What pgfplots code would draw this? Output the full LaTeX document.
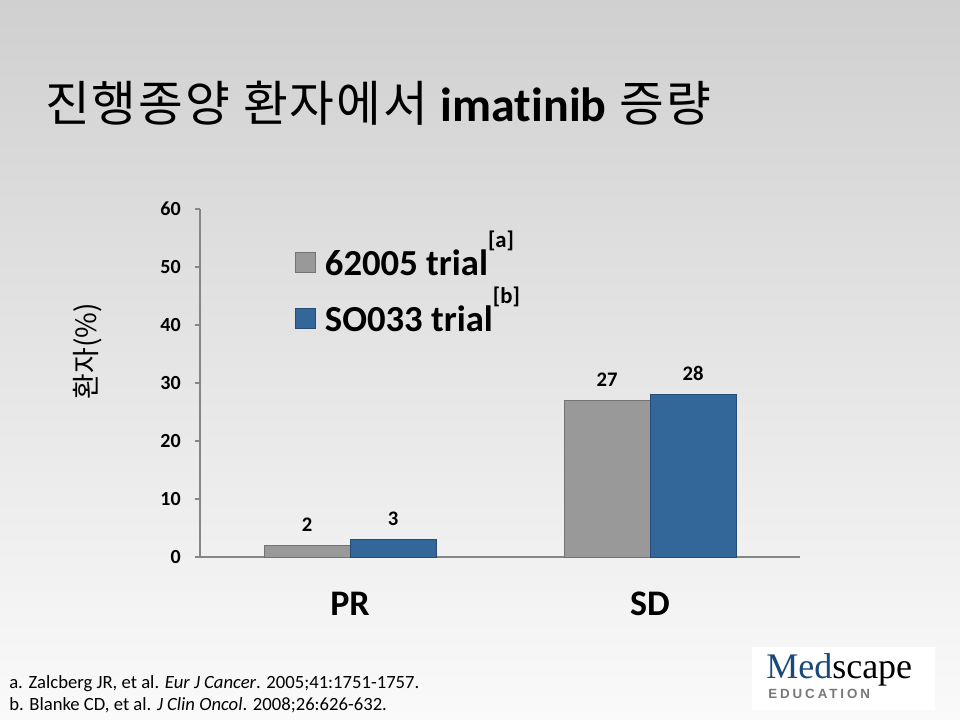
\documentclass[border=0pt]{standalone}
\usepackage{pgfplots}
\pgfplotsset{compat=1.18}
\usepackage{fontspec}
\setmainfont{Carlito}[Ligatures=NoCommon]
\newfontfamily\kr{Noto Sans CJK KR}
\newfontfamily\krt[LetterSpace=4]{Noto Sans CJK KR}
\newfontfamily\serifb{Liberation Serif}
\newfontfamily\edu[LetterSpace=22]{Liberation Sans}
\definecolor{bggray}{RGB}{208,208,208}
\definecolor{bgwhite}{RGB}{250,250,250}
\definecolor{bargray}{RGB}{153,153,153}
\definecolor{bargrayedge}{RGB}{115,115,115}
\definecolor{barblue}{RGB}{51,102,153}
\definecolor{barblueedge}{RGB}{38,76,118}
\definecolor{axisgray}{RGB}{134,134,134}
\definecolor{medblue}{RGB}{26,74,122}
\definecolor{edugray}{RGB}{120,120,120}
\begin{document}
\begin{tikzpicture}[x=0.75pt,y=-0.75pt]
\shade[top color=bggray, bottom color=bgwhite] (0,0) rectangle (960,720);
\node[anchor=base west, inner sep=0pt] at (45,122) {\fontsize{36.5}{40}\selectfont\krt 진행종양 환자에서 {\rmfamily\bfseries\fontsize{36}{40}\selectfont imatinib} 증량};
\begin{axis}[
  at={(150pt,-417.75pt)}, anchor=south west,
  scale only axis, width=450pt, height=261pt,
  xmin=-0.5, xmax=1.5, ymin=0, ymax=60,
  /pgf/number format/assume math mode=true,
  axis lines*=left,
  axis line style={axisgray, line width=0.8pt},
  tick style={axisgray, line width=0.8pt},
  tick align=outside,
  major tick length=3.75pt, minor tick length=6.75pt,
  ybar=0pt, bar width=64.5pt,
  ytick={0,10,...,60},
  xtick=\empty,
  minor xtick={-0.5,0.5,1.5},
  extra x ticks={0,1},
  extra x tick labels={PR,SD},
  extra x tick style={major tick length=0pt, tick style={draw=none}},
  xticklabel style={font=\bfseries\fontsize{27}{27}\selectfont, anchor=north, inner sep=0pt, yshift=-26pt},
  yticklabel style={font=\bfseries\fontsize{15}{15}\selectfont, inner sep=0pt, xshift=-10.5pt},
  ylabel={\kr 환자(\%)},
  ylabel style={at={(rel axis cs:-0.1867,0.592)}, anchor=center, font=\fontsize{21}{21}\selectfont},
  nodes near coords,
  nodes near coords style={font=\bfseries\fontsize{15.5}{15}\selectfont, anchor=south, inner sep=0pt, yshift=10pt, text=black},
  every axis plot post/.append style={legend image code/.code={\draw[##1] (0pt,-6pt) rectangle (15pt,9pt);}},
  legend style={at={(rel axis cs:0.158,0.89)}, anchor=north west, draw=none, fill=none,
    font=\bfseries\fontsize{27.5}{27}\selectfont, row sep=17pt, column sep=5pt, inner sep=0pt,
    nodes={inner sep=2pt}},
  legend cell align=left,
]
\addplot[fill=bargray, draw=bargrayedge] coordinates {(0,2) (1,27)};
\addlegendentry{62005 trial\smash{\raisebox{21pt}{\fontsize{17}{17}\selectfont[a]}}}
\addplot[fill=barblue, draw=barblueedge] coordinates {(0,3) (1,28)};
\addlegendentry{SO033 trial\smash{\raisebox{21pt}{\fontsize{17}{17}\selectfont[b]}}}
\end{axis}
\node[anchor=base west, inner sep=0pt, font=\fontsize{14}{16}\selectfont] at (9,688) {a. Zalcberg JR, et al. \textit{Eur J Cancer}. 2005;41:1751-1757.};
\node[anchor=base west, inner sep=0pt, font=\fontsize{14}{16}\selectfont] at (9,710) {b. Blanke CD, et al. \textit{J Clin Oncol}. 2008;26:626-632.};
\fill[white] (752,647) rectangle (935,710);
\node[anchor=base west, inner sep=0pt] at (766,678) {\serifb\fontsize{27}{27}\selectfont\textcolor{medblue}{Med}\textcolor{black}{scape}};
\node[anchor=base west, inner sep=0pt] at (768,698) {\edu\bfseries\fontsize{10}{10}\selectfont\textcolor{edugray}{EDUCATION}};
\end{tikzpicture}
\end{document}
